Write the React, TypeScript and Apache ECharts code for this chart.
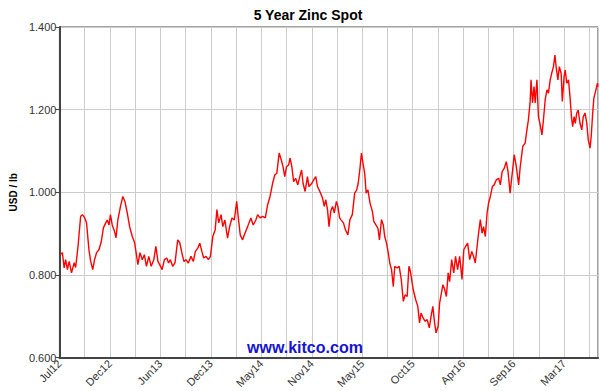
import React, { useEffect, useRef } from "react";
import * as echarts from "echarts";

const chartTitle = "5 Year Zinc Spot";
const yAxisName = "USD / lb";
const watermark = "www.kitco.com";

// days since start of Jul 2012
const dayOffsets = [
  2, 10, 16, 21, 27, 33, 41, 50, 55, 63, 72, 78, 86, 92, 100, 106, 113, 119, 126, 134,
  142, 149, 157, 162, 168, 173, 179, 187, 192, 198, 207, 215, 222, 230, 238, 247, 255, 260, 266, 273,
  281, 288, 295, 303, 311, 320, 327, 334, 343, 348, 356, 364, 370, 376, 384, 392, 401, 408, 415, 422,
  429, 437, 446, 454, 461, 469, 476, 483, 489, 497, 505, 512, 520, 528, 534, 540, 548, 554, 561, 570,
  577, 585, 593, 601, 606, 613, 621, 629, 638, 649, 657, 666, 672, 680, 689, 698, 706, 714, 723, 730,
  737, 745, 752, 758, 764, 770, 777, 782, 788, 794, 801, 808, 815, 821, 826, 833, 841, 846, 856, 862,
  869, 875, 883, 892, 898, 903, 909, 914, 920, 926, 932, 939, 944, 950, 954, 963, 970, 978, 985, 993,
  1001, 1008, 1013, 1019, 1024, 1029, 1035, 1040, 1046, 1053, 1061, 1066, 1073, 1080, 1085, 1092, 1098, 1103, 1109, 1115,
  1120, 1126, 1132, 1137, 1145, 1152, 1159, 1166, 1172, 1179, 1185, 1190, 1196, 1201, 1208, 1215, 1221, 1226, 1233, 1240,
  1247, 1254, 1260, 1266, 1272, 1277, 1284, 1289, 1300, 1305, 1312, 1318, 1323, 1330, 1337, 1343, 1350, 1357, 1365, 1371,
  1377, 1384, 1391, 1398, 1404, 1410, 1416, 1421, 1427, 1433, 1438, 1444, 1450, 1455, 1461, 1468, 1474, 1481, 1489, 1495,
  1501, 1508, 1515, 1521, 1528, 1534, 1542, 1549, 1557, 1562, 1571, 1579, 1585, 1590, 1596, 1599, 1604, 1609, 1613, 1619,
  1624, 1630, 1636, 1641, 1647, 1653, 1658, 1664, 1669, 1675, 1680, 1684, 1690, 1695, 1701, 1705, 1711, 1715, 1720, 1726,
  1731, 1736, 1740, 1745, 1749, 1754, 1759, 1765, 1771, 1776, 1782, 1788, 1793, 1799, 1803, 1808, 1812, 1819, 1824, 1826,
];

const zincPrices = [
  0.849, 0.854, 0.817, 0.837, 0.813, 0.833, 0.805, 0.83, 0.818, 0.869, 0.942, 0.946, 0.938, 0.926, 0.861, 0.833, 0.813, 0.837, 0.854, 0.861,
  0.881, 0.914, 0.926, 0.933, 0.921, 0.946, 0.921, 0.905, 0.89, 0.933, 0.966, 0.99, 0.978, 0.95, 0.917, 0.893, 0.878, 0.854, 0.825, 0.854,
  0.837, 0.849, 0.821, 0.845, 0.821, 0.837, 0.869, 0.833, 0.821, 0.813, 0.837, 0.841, 0.829, 0.837, 0.821, 0.83, 0.885, 0.878, 0.854, 0.833,
  0.837, 0.829, 0.845, 0.833, 0.857, 0.865, 0.877, 0.857, 0.841, 0.845, 0.837, 0.845, 0.893, 0.909, 0.958, 0.926, 0.946, 0.917, 0.933, 0.889,
  0.917, 0.938, 0.933, 0.978, 0.942, 0.897, 0.885, 0.901, 0.917, 0.938, 0.921, 0.933, 0.946, 0.938, 0.942, 0.938, 0.97, 0.99, 1.022, 1.042,
  1.046, 1.095, 1.079, 1.062, 1.038, 1.062, 1.066, 1.083, 1.062, 1.026, 1.034, 1.018, 1.038, 1.054, 1.022, 1.002, 1.038, 1.014, 1.022, 1.03,
  1.038, 1.014, 1.002, 0.986, 0.966, 0.982, 0.958, 0.917, 0.954, 0.966, 0.95, 0.978, 0.966, 0.938, 0.934, 0.926, 0.909, 0.897, 0.934, 0.946,
  0.998, 1.006, 1.022, 1.058, 1.095, 1.071, 1.046, 0.998, 1.006, 0.974, 0.954, 0.929, 0.921, 0.913, 0.885, 0.934, 0.921, 0.893, 0.877, 0.853,
  0.829, 0.813, 0.772, 0.821, 0.817, 0.821, 0.789, 0.736, 0.752, 0.748, 0.821, 0.809, 0.78, 0.76, 0.74, 0.724, 0.684, 0.708, 0.696, 0.688,
  0.692, 0.672, 0.7, 0.724, 0.684, 0.66, 0.676, 0.732, 0.776, 0.768, 0.748, 0.805, 0.784, 0.837, 0.805, 0.845, 0.813, 0.845, 0.789, 0.861,
  0.869, 0.877, 0.837, 0.857, 0.845, 0.829, 0.869, 0.901, 0.934, 0.901, 0.917, 0.893, 0.95, 0.974, 0.99, 1.014, 1.018, 1.03, 1.034, 1.018,
  1.05, 1.058, 1.074, 1.05, 0.998, 1.038, 1.091, 1.062, 1.018, 1.06, 1.111, 1.119, 1.151, 1.175, 1.22, 1.272, 1.216, 1.256, 1.216, 1.272,
  1.183, 1.163, 1.139, 1.175, 1.224, 1.248, 1.24, 1.272, 1.288, 1.304, 1.332, 1.304, 1.272, 1.304, 1.288, 1.22, 1.28, 1.296, 1.264, 1.272,
  1.232, 1.183, 1.159, 1.183, 1.167, 1.192, 1.199, 1.167, 1.151, 1.183, 1.192, 1.167, 1.127, 1.107, 1.135, 1.192, 1.228, 1.248, 1.264, 1.256,
];

const xTickLabels = ["Jul12", "Dec12", "Jun13", "Dec13", "May14", "Nov14", "May15", "Oct15", "Apr16", "Sep16", "Mar17"];
const xMaxDays = 1826;
const xGridStepDays = 85.55;
const yMin = 0.6;
const yMax = 1.4;
const yStep = 0.2;

const FONT = "Arial, 'Liberation Sans', sans-serif";

export default function App() {
  const ref = useRef<HTMLDivElement>(null);
  useEffect(() => {
    if (!ref.current) return;
    const chart = echarts.init(ref.current, undefined, { renderer: "svg" });
    const data = dayOffsets.map((d, i) => [d, zincPrices[i]]);
    chart.setOption({
      animation: false,
      backgroundColor: "#ffffff",
      title: {
        text: chartTitle,
        left: 303,
        textAlign: "center",
        top: 3,
        textStyle: { fontFamily: FONT, fontSize: 14, fontWeight: "bold", color: "#000" },
      },
      grid: {
        left: 58,
        right: 2,
        top: 27,
        bottom: 33,
        show: true,
        borderColor: "#444",
        borderWidth: 1,
        backgroundColor: "#fff",
      },
      xAxis: {
        type: "value",
        min: 0,
        max: xMaxDays,
        interval: xGridStepDays,
        axisLine: { show: true, onZero: false, lineStyle: { color: "#444", width: 2 } },
        axisTick: { show: false },
        splitLine: { show: true, lineStyle: { color: "#cccccc", width: 1 } },
        axisLabel: {
          rotate: 45,
          margin: 4,
          fontFamily: FONT,
          fontSize: 11,
          color: "#333",
          showMaxLabel: false,
          formatter: (val: number) => {
            const k = Math.round(val / xGridStepDays);
            if (Math.abs(val - k * xGridStepDays) > 1) return "";
            if (k % 2 !== 0) return "";
            return xTickLabels[k / 2] ?? "";
          },
        },
      },
      yAxis: {
        type: "value",
        min: yMin,
        max: yMax,
        interval: yStep,
        name: yAxisName,
        nameLocation: "middle",
        nameGap: 35,
        nameTextStyle: { fontFamily: FONT, fontSize: 10, fontWeight: "bold", color: "#000" },
        axisLine: { show: true, lineStyle: { color: "#444", width: 2 } },
        axisTick: { show: true, length: 4, lineStyle: { color: "#444" } },
        splitLine: { show: true, lineStyle: { color: "#cccccc", width: 1 } },
        axisLabel: {
          margin: 3,
          fontFamily: FONT,
          fontSize: 11,
          color: "#333",
          formatter: (v: number) => v.toFixed(3),
        },
      },
      graphic: [
        {
          type: "text",
          left: 247,
          top: 339,
          style: {
            text: watermark,
            fontFamily: FONT,
            fontSize: 16,
            fontWeight: "bold",
            fill: "#1414d2",
          },
          z: 100,
        },
      ],
      series: [
        {
          type: "line",
          data,
          showSymbol: false,
          symbol: "none",
          lineStyle: { color: "#ff0000", width: 1.4 },
          clip: true,
          z: 5,
        },
      ],
    });
    return () => chart.dispose();
  }, []);
  return <div ref={ref} style={{ position: "fixed", left: 0, top: 0, width: 600, height: 391 }} />;
}
